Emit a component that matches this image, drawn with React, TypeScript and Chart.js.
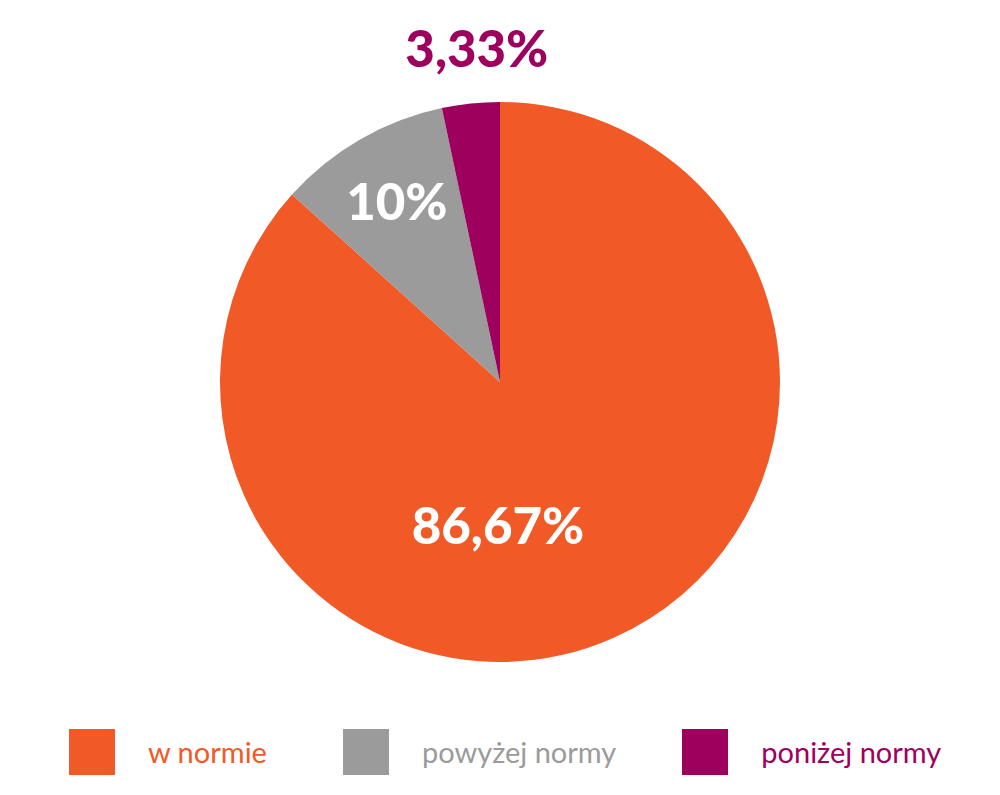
import React, { useEffect, useRef } from "react";
import { Chart, registerables } from "chart.js";

Chart.register(...registerables);

const categories = ["w normie", "powyżej normy", "poniżej normy"];
const values = [86.67, 10, 3.33];
const valueLabels = ["86,67%", "10%", "3,33%"];
const colors = ["#F15A27", "#9B9B9B", "#9E005D"];
const labelColors = ["#FFFFFF", "#FFFFFF", "#9E005D"];

const sliceLabelPlugin = {
  id: "sliceLabels",
  afterDatasetsDraw(chart: any, _args: any, opts: any) {
    const { ctx } = chart;
    const meta = chart.getDatasetMeta(0);
    const place = opts.placement || [];
    ctx.save();
    ctx.font = "900 51px Lato";
    ctx.textAlign = "center";
    ctx.textBaseline = "middle";
    meta.data.forEach((arc: any, i: number) => {
      const p = arc.getProps(["x", "y", "startAngle", "endAngle", "outerRadius"], true);
      const pl = place[i] || {};
      const ang = pl.angle !== undefined ? pl.angle : (p.startAngle + p.endAngle) / 2;
      const rf = pl.r !== undefined ? pl.r : 0.6;
      const x = p.x + Math.cos(ang) * p.outerRadius * rf;
      const y = p.y + Math.sin(ang) * p.outerRadius * rf;
      ctx.fillStyle = labelColors[i];
      ctx.fillText(valueLabels[i], x, y);
    });
    ctx.restore();
  },
};

export default function App() {
  const ref = useRef<HTMLCanvasElement | null>(null);

  useEffect(() => {
    document.body.style.margin = "0";
    if (!ref.current) return;
    const chart = new Chart(ref.current, {
      type: "pie",
      data: {
        labels: categories,
        datasets: [
          {
            data: values,
            backgroundColor: colors,
            borderWidth: 0,
          },
        ],
      },
      options: {
        animation: false,
        responsive: false,
        maintainAspectRatio: false,
        rotation: 0,
        layout: { padding: { top: 102, bottom: 3, left: 0, right: 0 } },
        plugins: {
          legend: { display: false },
          tooltip: { enabled: false },
          sliceLabels: {
            placement: [
              { angle: Math.PI / 2 + 0.014, r: 0.52 },
              { r: 0.737 },
              { angle: -Math.PI / 2 - 0.07, r: 1.185 },
            ],
          },
        } as any,
      },
      plugins: [sliceLabelPlugin],
    });
    return () => chart.destroy();
  }, []);

  const itemGaps = [76, 66, 0];

  return (
    <div style={{ width: 1000, height: 795, position: "relative", background: "#fff" }}>
      <canvas ref={ref} width={1000} height={665} style={{ display: "block" }} />
      <div
        style={{
          position: "absolute",
          top: 729,
          left: 0,
          width: 1000,
          display: "flex",
          justifyContent: "flex-start",
          paddingLeft: 69,
          boxSizing: "border-box",
          fontFamily: "Lato, sans-serif",
          fontSize: 29,
        }}
      >
        {categories.map((c, i) => (
          <div
            key={c}
            style={{ display: "flex", alignItems: "center", height: 46, marginRight: itemGaps[i] }}
          >
            <div style={{ width: 46, height: 46, background: colors[i], marginRight: 33 }} />
            <span style={{ color: colors[i], lineHeight: "46px", whiteSpace: "nowrap" }}>{c}</span>
          </div>
        ))}
      </div>
    </div>
  );
}
